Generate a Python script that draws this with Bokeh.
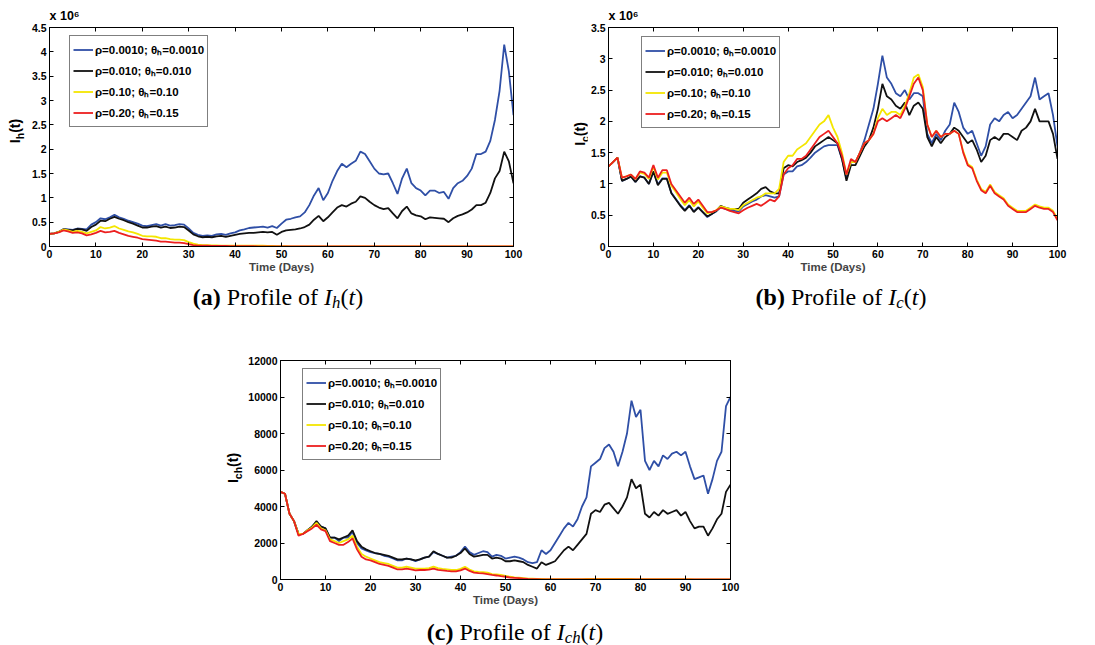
from bokeh.plotting import figure
from bokeh.models import (Range1d, LinearAxis, FixedTicker, NumeralTickFormatter,
                          Legend, LegendItem, Div, Spacer, CustomLabelingPolicy)
from bokeh.layouts import column, row
from bokeh.embed import file_html
from bokeh.resources import INLINE

# ---------------- data ----------------
days = list(range(101))
x_ticks = [0, 10, 20, 30, 40, 50, 60, 70, 80, 90, 100]
ih_ticks = [0, 0.5, 1, 1.5, 2, 2.5, 3, 3.5, 4, 4.5]
ic_ticks = [0, 0.5, 1, 1.5, 2, 2.5, 3, 3.5]
ich_ticks = [0, 2000, 4000, 6000, 8000, 10000, 12000]

legend_labels = ["ρ=0.0010; θₕ=0.0010", "ρ=0.010; θₕ=0.010",
                 "ρ=0.10; θₕ=0.10", "ρ=0.20; θₕ=0.15"]

# (a) I_h(t), x 10^6
ih_blue = [0.26,0.27,0.30,0.36,0.35,0.34,0.37,0.36,0.35,0.45,
           0.50,0.58,0.56,0.60,0.65,0.60,0.57,0.53,0.50,0.47,
           0.43,0.42,0.44,0.46,0.43,0.46,0.43,0.44,0.46,0.45,
           0.37,0.28,0.24,0.22,0.23,0.22,0.25,0.26,0.24,0.27,
           0.29,0.33,0.35,0.38,0.39,0.40,0.41,0.39,0.42,0.38,
           0.47,0.55,0.57,0.60,0.62,0.70,0.85,1.05,1.20,0.95,
           1.10,1.35,1.55,1.70,1.63,1.70,1.76,1.95,1.90,1.75,
           1.60,1.50,1.48,1.50,1.30,1.08,1.40,1.60,1.30,1.20,
           1.15,1.05,1.15,1.15,1.10,1.12,0.98,1.20,1.30,1.35,
           1.45,1.60,1.90,1.90,1.95,2.17,2.60,3.20,4.15,3.60,
           2.70]
ih_black = [0.26,0.27,0.30,0.35,0.34,0.33,0.36,0.35,0.32,0.40,
            0.45,0.53,0.52,0.57,0.61,0.57,0.54,0.50,0.47,0.43,
            0.39,0.39,0.41,0.42,0.39,0.41,0.38,0.39,0.41,0.40,
            0.33,0.25,0.21,0.19,0.20,0.19,0.21,0.22,0.20,0.22,
            0.24,0.26,0.27,0.28,0.28,0.29,0.30,0.29,0.30,0.24,
            0.30,0.33,0.34,0.35,0.37,0.40,0.45,0.55,0.63,0.52,
            0.60,0.70,0.80,0.85,0.82,0.88,0.92,1.03,1.00,0.92,
            0.85,0.80,0.77,0.79,0.68,0.58,0.73,0.82,0.68,0.64,
            0.62,0.56,0.60,0.59,0.58,0.57,0.50,0.58,0.63,0.66,
            0.70,0.76,0.85,0.85,0.90,1.10,1.40,1.55,1.95,1.75,
            1.30]
ih_yellow = [0.26,0.27,0.30,0.35,0.33,0.30,0.32,0.30,0.27,0.30,
             0.33,0.40,0.37,0.39,0.42,0.37,0.34,0.31,0.29,0.26,
             0.22,0.21,0.21,0.20,0.17,0.17,0.15,0.14,0.14,0.13,
             0.09,0.06,0.04,0.03,0.03,0.025,0.025,0.02,0.02,0.02,
             0.02,0.02,0.02,0.02,0.015,0.015,0.015,0.01,0.01,0.008,
             0.006,0.005,0.004,0.003,0.003,0.002,0.002,0.001,0.001,0.001,
             0.0,0.0,0.0,0.0,0.0,0.0,0.0,0.0,0.0,0.0,
             0.0,0.0,0.0,0.0,0.0,0.0,0.0,0.0,0.0,0.0,
             0.0,0.0,0.0,0.0,0.0,0.0,0.0,0.0,0.0,0.0,
             0.0,0.0,0.0,0.0,0.0,0.0,0.0,0.0,0.0,0.0,
             0.0]
ih_red = [0.26,0.27,0.29,0.33,0.31,0.28,0.29,0.27,0.23,0.25,
          0.28,0.32,0.29,0.30,0.32,0.28,0.25,0.22,0.20,0.18,
          0.15,0.14,0.13,0.12,0.10,0.10,0.09,0.08,0.08,0.07,
          0.05,0.03,0.02,0.015,0.015,0.01,0.01,0.01,0.01,0.008,
          0.008,0.007,0.006,0.005,0.005,0.004,0.004,0.003,0.003,0.002,
          0.002,0.001,0.001,0.001,0.0,0.0,0.0,0.0,0.0,0.0,
          0.0,0.0,0.0,0.0,0.0,0.0,0.0,0.0,0.0,0.0,
          0.0,0.0,0.0,0.0,0.0,0.0,0.0,0.0,0.0,0.0,
          0.0,0.0,0.0,0.0,0.0,0.0,0.0,0.0,0.0,0.0,
          0.0,0.0,0.0,0.0,0.0,0.0,0.0,0.0,0.0,0.0,
          0.0]

# (b) I_c(t), x 10^6
ic_blue = [1.28,1.35,1.42,1.05,1.08,1.12,1.03,1.12,1.10,1.00,
           1.20,0.99,1.09,1.09,0.86,0.76,0.66,0.58,0.66,0.56,
           0.63,0.55,0.47,0.52,0.56,0.63,0.60,0.58,0.57,0.56,
           0.64,0.68,0.72,0.75,0.80,0.82,0.80,0.78,0.80,1.15,
           1.20,1.20,1.28,1.30,1.35,1.42,1.50,1.55,1.60,1.62,
           1.62,1.62,1.40,1.08,1.35,1.35,1.50,1.70,1.95,2.20,
           2.60,3.05,2.70,2.60,2.45,2.40,2.50,2.35,2.45,2.45,
           2.40,1.80,1.65,1.80,1.70,1.85,1.95,2.30,2.15,1.90,
           1.80,1.85,1.65,1.45,1.60,1.95,2.05,2.00,2.10,2.15,
           2.05,2.10,2.20,2.30,2.40,2.70,2.35,2.40,2.45,2.10,
           1.60]
ic_black = [1.28,1.35,1.42,1.05,1.08,1.12,1.03,1.12,1.10,1.00,
            1.20,0.98,1.08,1.08,0.85,0.75,0.65,0.57,0.65,0.55,
            0.62,0.55,0.48,0.52,0.57,0.65,0.62,0.60,0.60,0.60,
            0.70,0.75,0.80,0.85,0.92,0.95,0.88,0.85,0.85,1.25,
            1.30,1.28,1.35,1.38,1.42,1.50,1.60,1.65,1.70,1.75,
            1.70,1.65,1.40,1.05,1.30,1.30,1.45,1.60,1.70,1.90,
            2.20,2.60,2.40,2.35,2.25,2.20,2.30,2.10,2.25,2.30,
            2.20,1.75,1.60,1.75,1.65,1.75,1.80,1.90,1.85,1.75,
            1.65,1.70,1.55,1.35,1.45,1.70,1.75,1.70,1.80,1.80,
            1.75,1.70,1.85,1.90,2.00,2.20,2.00,2.00,2.00,1.80,
            1.40]
ic_yellow = [1.28,1.35,1.42,1.10,1.12,1.15,1.08,1.18,1.16,1.08,
             1.27,1.07,1.18,1.18,0.97,0.87,0.76,0.66,0.74,0.64,
             0.72,0.62,0.53,0.55,0.58,0.64,0.62,0.60,0.60,0.58,
             0.66,0.70,0.74,0.78,0.80,0.85,0.85,0.85,0.92,1.35,
             1.45,1.45,1.55,1.60,1.65,1.75,1.85,1.95,2.00,2.10,
             1.90,1.75,1.50,1.15,1.35,1.35,1.50,1.65,1.70,1.80,
             2.05,2.20,2.10,2.15,2.15,2.10,2.25,2.45,2.70,2.75,
             2.55,1.95,1.75,1.85,1.75,1.80,1.80,1.85,1.80,1.52,
             1.32,1.27,1.07,0.92,0.87,0.99,0.87,0.82,0.77,0.67,
             0.62,0.57,0.57,0.57,0.62,0.67,0.64,0.62,0.62,0.57,
             0.44]
ic_red = [1.28,1.35,1.42,1.10,1.12,1.15,1.08,1.20,1.18,1.10,
          1.30,1.10,1.22,1.22,1.00,0.90,0.80,0.70,0.78,0.68,
          0.75,0.65,0.55,0.55,0.58,0.62,0.60,0.57,0.55,0.53,
          0.58,0.62,0.65,0.68,0.65,0.70,0.75,0.72,0.80,1.15,
          1.25,1.30,1.40,1.40,1.45,1.55,1.65,1.75,1.80,1.85,
          1.75,1.65,1.45,1.15,1.40,1.35,1.50,1.65,1.70,1.80,
          2.00,2.05,2.00,2.05,2.10,2.05,2.20,2.40,2.60,2.70,
          2.50,1.95,1.75,1.85,1.75,1.80,1.80,1.85,1.80,1.50,
          1.30,1.25,1.05,0.90,0.85,0.97,0.85,0.80,0.75,0.65,
          0.60,0.55,0.55,0.55,0.60,0.65,0.62,0.60,0.60,0.55,
          0.42]

# (c) I_ch(t)
ich_blue = [4800,4700,3600,3200,2500,2500,2700,2900,3100,2900,
            2800,2300,2300,2100,2300,2300,2600,2000,1700,1600,
            1500,1450,1400,1300,1250,1150,1050,1050,1150,1100,
            1000,1100,1200,1250,1500,1400,1300,1200,1250,1300,
            1500,1800,1500,1350,1450,1550,1500,1250,1350,1300,
            1150,1200,1250,1200,1100,950,900,950,1600,1400,
            1600,2000,2400,2800,3100,2900,3300,4000,4500,6200,
            6400,6600,7200,7400,7000,6200,7000,8000,9800,8900,
            9300,6500,6000,6500,6200,6800,6600,6900,7000,6800,
            7000,6200,5500,5600,5700,4700,5500,6500,7000,9500,
            10000]
ich_black = [4800,4700,3600,3200,2500,2500,2700,2900,3200,2900,
             2800,2300,2300,2200,2300,2400,2700,2100,1800,1650,
             1550,1450,1400,1350,1300,1200,1100,1100,1150,1100,
             1050,1100,1200,1250,1550,1400,1300,1200,1200,1300,
             1450,1700,1400,1250,1300,1350,1350,1150,1200,1150,
             1000,1000,1050,1000,950,800,700,600,950,800,
             900,1000,1300,1600,1800,1600,1900,2200,2500,3600,
             3800,3700,4100,4200,3900,3600,4000,4500,5500,5000,
             5200,3600,3400,3700,3500,3800,3600,3700,3800,3500,
             3700,3200,2800,2900,2900,2400,2800,3300,3600,4800,
             5200]
ich_yellow = [4800,4700,3600,3200,2500,2500,2700,2850,3100,2800,
              2700,2200,2100,2000,2100,2200,2400,1800,1400,1250,
              1150,1050,950,900,850,750,650,650,700,650,
              600,600,600,620,700,620,580,550,520,520,
              580,700,550,450,420,400,380,300,280,250,
              200,150,120,100,80,50,40,30,30,25,
              20,20,20,20,20,25,25,25,30,30,
              30,30,30,30,30,30,30,30,30,25,
              25,20,20,20,20,20,20,15,15,15,
              15,15,10,10,10,10,10,10,10,10,
              10]
ich_red = [4800,4700,3600,3200,2400,2500,2650,2800,3000,2750,
           2650,2100,2000,1900,1900,2050,2250,1650,1250,1100,
           1050,950,850,800,750,650,550,550,600,550,
           500,520,520,540,600,530,500,470,450,450,
           500,600,470,380,350,330,300,250,220,180,
           150,110,90,70,50,30,20,15,10,8,
           6,5,4,3,3,2,2,2,1,1,
           1,1,1,1,1,1,0,0,0,0,
           0,0,0,0,0,0,0,0,0,0,
           0,0,0,0,0,0,0,0,0,0,
           0]

# ---------------- styling ----------------
COLORS = ["#2f4fa6", "#111111", "#f4e600", "#ec1f1f"]
SANS = "Liberation Sans"
TICK_FS = "10.5px"

HIDE_LABELS = "for (const i of indices) { indices.unset(i) }\nreturn indices"


def style_axis(ax, ticks, fmt=None, labels=True):
    ax.ticker = FixedTicker(ticks=ticks)
    ax.major_tick_in = 4
    ax.major_tick_out = 0
    ax.minor_tick_line_color = None
    ax.axis_line_color = "black"
    ax.major_tick_line_color = "black"
    ax.major_label_text_font = SANS
    ax.major_label_text_font_style = "bold"
    ax.major_label_text_color = "black"
    if labels:
        ax.major_label_text_font_size = TICK_FS
        ax.major_label_standoff = 3
    else:
        ax.major_label_text_font_size = "2px"
        ax.major_label_standoff = 0
        ax.major_label_policy = CustomLabelingPolicy(code=HIDE_LABELS)
    if fmt is not None:
        ax.formatter = fmt


def make_panel(series, ymax, yticks, yfmt, W, H, borders, legend_xy, exponent):
    left, right, top, bottom = borders
    p = figure(width=W, height=H, output_backend="svg", toolbar_location=None,
               x_range=Range1d(0, 100), y_range=Range1d(0, ymax),
               min_border_left=left, min_border_right=right,
               min_border_top=top, min_border_bottom=bottom)
    p.grid.visible = False
    p.outline_line_color = "black"
    p.outline_line_width = 1
    p.background_fill_color = "white"
    p.border_fill_color = "white"

    if exponent:
        p.title.text = "x 10⁶"
        p.title.align = "left"
        p.title.offset = 0
        p.title.standoff = 2
        p.title.text_font = SANS
        p.title.text_font_style = "bold"
        p.title.text_font_size = "12.5px"
        p.title.text_color = "black"

    style_axis(p.xaxis[0], x_ticks)
    p.xaxis[0].axis_label = "Time (Days)"
    p.xaxis[0].axis_label_text_font = SANS
    p.xaxis[0].axis_label_text_font_style = "bold"
    p.xaxis[0].axis_label_text_font_size = "11.5px"
    p.xaxis[0].axis_label_standoff = 0
    style_axis(p.yaxis[0], yticks, yfmt)

    top_ax = LinearAxis()
    style_axis(top_ax, x_ticks, labels=False)
    p.add_layout(top_ax, "above")
    right_ax = LinearAxis()
    style_axis(right_ax, yticks, labels=False)
    p.add_layout(right_ax, "right")

    rends = [p.line(days, s, line_color=c, line_width=1.8) for s, c in zip(series, COLORS)]
    legend = Legend(items=[LegendItem(label=l, renderers=[r]) for l, r in zip(legend_labels, rends)],
                    location=legend_xy)
    legend.border_line_color = "black"
    legend.border_line_width = 1.3
    legend.background_fill_color = "white"
    legend.background_fill_alpha = 1
    legend.label_text_font = SANS
    legend.label_text_font_style = "bold"
    legend.label_text_font_size = "11.5px"
    legend.label_text_color = "black"
    legend.glyph_width = 20
    legend.glyph_height = 21
    legend.label_height = 21
    legend.spacing = 0
    legend.padding = 3
    legend.margin = 0
    legend.label_standoff = 2
    p.add_layout(legend)
    return p


def ylabel_div(sub, W, H, cx, cy):
    html = (f'<div style="position:relative;width:{W}px;height:{H}px;">'
            f'<div style="position:absolute;left:{cx}px;top:{cy}px;'
            f'transform:translate(-50%,-50%) rotate(-90deg);white-space:nowrap;'
            f'font-family:\'Liberation Sans\',sans-serif;font-weight:bold;font-size:14px;'
            f'line-height:1;color:#000;">I<sub style="font-size:75%;line-height:0;">{sub}</sub>(t)</div></div>')
    return Div(text=html, width=W, height=H, margin=(0, 0, 0, 0))


def caption(letter, sub, W, H, pad_left, pad_top, lh):
    html = (f'<div style="width:{W}px;height:{H}px;box-sizing:border-box;padding-left:{pad_left}px;'
            f'padding-top:{pad_top}px;text-align:center;font-family:\'Liberation Serif\',serif;'
            f'font-size:24px;line-height:{lh}px;color:#000;white-space:nowrap;">'
            f'<b>({letter})</b> Profile of <i>I</i>'
            f'<sub style="font-size:70%;line-height:0;vertical-align:-0.15em;"><i>{sub}</i></sub>'
            f'(<i>t</i>)</div>')
    return Div(text=html, width=W, height=H, margin=(0, 0, 0, 0),
               styles={"overflow": "visible"})


pa = make_panel([ih_blue, ih_black, ih_yellow, ih_red], 4.5, ih_ticks,
                NumeralTickFormatter(format="0.[0]"), 517, 280, (20, 32, 27, 34),
                (20, 119), True)
pb = make_panel([ic_blue, ic_black, ic_yellow, ic_red], 3.5, ic_ticks,
                NumeralTickFormatter(format="0.[0]"), 508, 280, (20, 38, 27, 34),
                (33, 118), True)
pc = make_panel([ich_blue, ich_black, ich_yellow, ich_red], 12000, ich_ticks,
                NumeralTickFormatter(format="0"), 525, 290, (35, 40, 40, 31),
                (22, 119), False)

ya = ylabel_div("h", 28, 280, 15, 131)
yb = ylabel_div("c", 42, 280, 35, 134)
yc = ylabel_div("ch", 25, 290, 13, 148)

ca = caption("a", "h", 545, 40, 11, 0, 34)
cb = caption("b", "c", 550, 40, 42, 0, 34)
cc = caption("c", "ch", 550, 35, 40, 9, 26)

layout = column(
    row(ya, pa, yb, pb, spacing=0),
    row(ca, cb, spacing=0),
    row(Spacer(width=220, height=290), yc, pc, spacing=0),
    row(Spacer(width=220, height=35), cc, spacing=0),
    spacing=0,
)

open("out.html", "w").write(file_html(layout, INLINE))
